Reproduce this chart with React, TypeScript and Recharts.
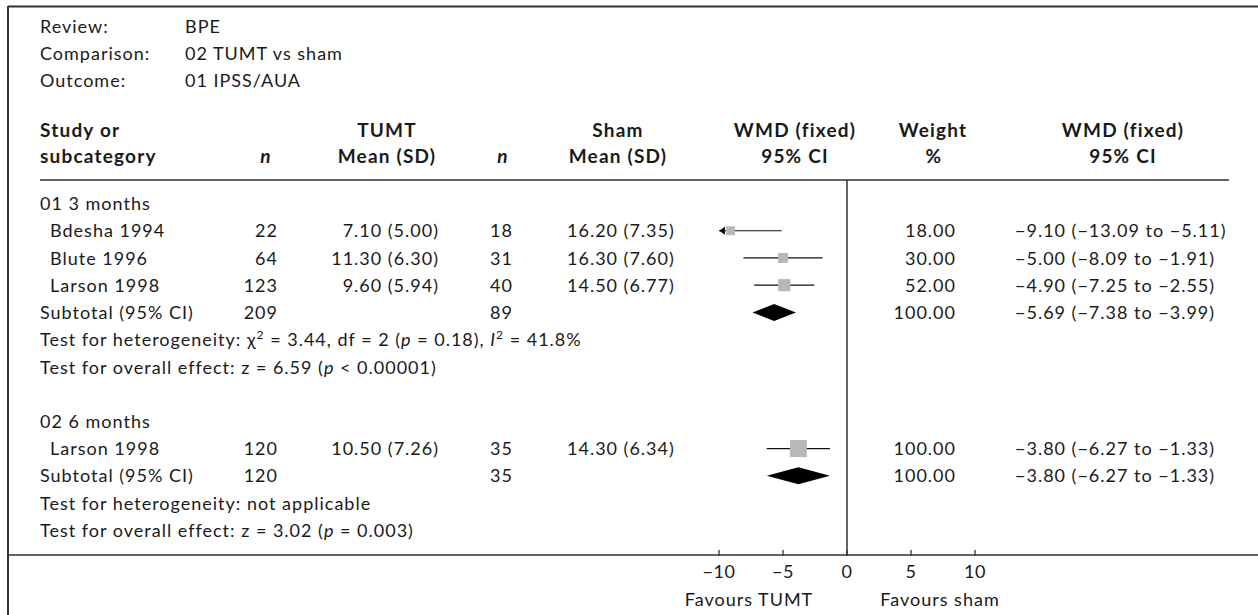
import { ComposedChart, Bar, XAxis, YAxis, ReferenceLine } from 'recharts';

const FONT = 'Lato, "Open Sans", sans-serif';
const INK = '#1a1a1a';
const RULE = '#333';

// table rows, top to bottom
const rowTypes = ['group', 'study', 'study', 'study', 'total', 'het', 'effect', 'blank', 'group', 'study', 'total', 'het', 'effect'];
const rowLabels = ['01 3 months', 'Bdesha 1994', 'Blute 1996', 'Larson 1998', 'Subtotal (95% CI)', 'Test for heterogeneity', 'Test for overall effect', '', '02 6 months', 'Larson 1998', 'Subtotal (95% CI)', 'Test for heterogeneity', 'Test for overall effect'];
const groupIndex = [0, 0, 0, 0, 0, 0, 0, 0, 1, 1, 1, 1, 1];

const tumtN = [null, 22, 64, 123, 209, null, null, null, null, 120, 120, null, null];
const tumtMean = [null, 7.1, 11.3, 9.6, null, null, null, null, null, 10.5, null, null, null];
const tumtSD = [null, 5.0, 6.3, 5.94, null, null, null, null, null, 7.26, null, null, null];
const shamN = [null, 18, 31, 40, 89, null, null, null, null, 35, 35, null, null];
const shamMean = [null, 16.2, 16.3, 14.5, null, null, null, null, null, 14.3, null, null, null];
const shamSD = [null, 7.35, 7.6, 6.77, null, null, null, null, null, 6.34, null, null, null];
const wmd = [null, -9.1, -5.0, -4.9, -5.69, null, null, null, null, -3.8, -3.8, null, null];
const ciLow = [null, -13.09, -8.09, -7.25, -7.38, null, null, null, null, -6.27, -6.27, null, null];
const ciHigh = [null, -5.11, -1.91, -2.55, -3.99, null, null, null, null, -1.33, -1.33, null, null];
const weights = [null, 18, 30, 52, 100, null, null, null, null, 100, 100, null, null];

// per-group test statistics
const hetChi2 = [3.44, null];
const hetDf = [2, null];
const hetP = [0.18, null];
const hetI2 = [41.8, null];
const effectZ = [6.59, 3.02];
const effectP = ['< 0.00001', '= 0.003'];

const xDomain = [-10, 10];
const xTicks = [-10, -5, 0, 5, 10];

const fmt = (v: number) => (v < 0 ? '\u2212' : '') + Math.abs(v).toFixed(2);
const fmtTick = (v: number) => (v < 0 ? '\u2212' : '') + Math.abs(v);

const rows = rowTypes.map((type, i) => ({
  key: 'r' + i,
  type,
  label: rowLabels[i],
  group: groupIndex[i],
  n1: tumtN[i],
  mean1: tumtMean[i] != null ? `${tumtMean[i]!.toFixed(2)} (${tumtSD[i]!.toFixed(2)})` : null,
  n2: shamN[i],
  mean2: shamMean[i] != null ? `${shamMean[i]!.toFixed(2)} (${shamSD[i]!.toFixed(2)})` : null,
  wmd: wmd[i],
  weight: weights[i],
  lo: ciLow[i],
  hi: ciHigh[i],
  ci: wmd[i] != null ? [Math.max(ciLow[i]!, xDomain[0]), Math.min(ciHigh[i]!, xDomain[1])] : null,
  clippedLow: ciLow[i] != null && ciLow[i]! < xDomain[0],
}));

const textProps = { fontFamily: FONT, fontSize: 18, fill: INK, letterSpacing: 1 };
const boldProps = { ...textProps, fontSize: 19, fontWeight: 700, letterSpacing: 1.2 };

function RowTick(props: any) {
  const { y, payload } = props;
  const row = rows.find(r => r.key === payload.value);
  if (!row) return null;
  const ty = y + 6.5;
  const g = row.group;
  if (row.type === 'het') {
    if (hetChi2[g] == null) {
      return <text x={40} y={ty} {...textProps}>Test for heterogeneity: not applicable</text>;
    }
    return (
      <text x={40} y={ty} {...textProps}>
        Test for heterogeneity: χ
        <tspan dy={-7} fontSize={12}>2</tspan>
        <tspan dy={7}>{` = ${hetChi2[g]!.toFixed(2)}, df = ${hetDf[g]} (`}</tspan>
        <tspan fontStyle="italic">p</tspan>
        {` = ${hetP[g]!.toFixed(2)}), `}
        <tspan fontStyle="italic">I</tspan>
        <tspan dy={-7} fontSize={12}>2</tspan>
        <tspan dy={7}>{` = ${hetI2[g]!.toFixed(1)}%`}</tspan>
      </text>
    );
  }
  if (row.type === 'effect') {
    return (
      <text x={40} y={ty} {...textProps}>
        {`Test for overall effect: z = ${effectZ[g].toFixed(2)} (`}
        <tspan fontStyle="italic">p</tspan>
        {` ${effectP[g]})`}
      </text>
    );
  }
  return (
    <g>
      <text x={row.type === 'study' ? 50 : 40} y={ty} {...textProps}>{row.label}</text>
      {row.n1 != null && <text x={278} y={ty} textAnchor="end" {...textProps}>{row.n1}</text>}
      {row.mean1 && <text x={439} y={ty} textAnchor="end" {...textProps}>{row.mean1}</text>}
      {row.n2 != null && <text x={513} y={ty} textAnchor="end" {...textProps}>{row.n2}</text>}
      {row.mean2 && <text x={567} y={ty} {...textProps}>{row.mean2}</text>}
      {row.weight != null && <text x={956} y={ty} textAnchor="end" {...textProps}>{row.weight.toFixed(2)}</text>}
      {row.wmd != null && (
        <text x={1015} y={ty} {...textProps}>{`${fmt(row.wmd)} (${fmt(row.lo!)} to ${fmt(row.hi!)})`}</text>
      )}
    </g>
  );
}

function XTick(props: any) {
  const { x, y, payload } = props;
  const axisY = y - 8;
  return (
    <g>
      <line x1={x} x2={x} y1={axisY - 5} y2={axisY + 1} stroke={RULE} strokeWidth={1.3} />
      <text x={x} y={axisY + 23} textAnchor="middle" {...textProps} letterSpacing={0.5}>{fmtTick(payload.value)}</text>
    </g>
  );
}

function ForestMark(props: any) {
  const { x, y, width, height, payload } = props;
  if (!payload || payload.wmd == null || !payload.ci) return <g />;
  const cy = y + height / 2;
  const [lo, hi] = payload.ci;
  const px = x + (width * (payload.wmd - lo)) / (hi - lo);
  if (payload.type === 'total') {
    const h = height / 2;
    return <polygon points={`${x},${cy} ${px},${cy - h} ${x + width},${cy} ${px},${cy + h}`} fill="#000" />;
  }
  const s = 7 + payload.weight * 0.1;
  return (
    <g>
      <line x1={x} x2={x + width} y1={cy} y2={cy} stroke="#111" strokeWidth={1.2} />
      {payload.clippedLow && (
        <polygon points={`${x},${cy} ${x + 6},${cy - 4} ${x + 6},${cy + 4}`} fill="#111" />
      )}
      <rect x={px - s / 2} y={cy - s / 2} width={s} height={s} fill="#b8b8b8" />
    </g>
  );
}

function Header() {
  return (
    <svg width={1258} height={615} style={{ position: 'absolute', left: 0, top: 0, pointerEvents: 'none' }}>
      {/* frame */}
      <line x1={8} x2={1258} y1={6.5} y2={6.5} stroke={RULE} strokeWidth={2} />
      <line x1={8} x2={8} y1={6} y2={615} stroke={RULE} strokeWidth={2} />
      <line x1={40} x2={1229} y1={180} y2={180} stroke={RULE} strokeWidth={1.5} />
      <line x1={8} x2={1258} y1={555} y2={555} stroke={RULE} strokeWidth={1.5} />

      <text x={40} y={33} {...textProps}>Review:</text>
      <text x={185} y={33} {...textProps}>BPE</text>
      <text x={40} y={60} {...textProps}>Comparison:</text>
      <text x={185} y={60} {...textProps}>02 TUMT vs sham</text>
      <text x={40} y={87} {...textProps}>Outcome:</text>
      <text x={185} y={87} {...textProps}>01 IPSS/AUA</text>

      <text x={40} y={137} {...boldProps}>Study or</text>
      <text x={40} y={163} {...boldProps}>subcategory</text>
      <text x={266} y={163} textAnchor="middle" {...boldProps} fontStyle="italic">n</text>
      <text x={387} y={137} textAnchor="middle" {...boldProps}>TUMT</text>
      <text x={387} y={163} textAnchor="middle" {...boldProps}>Mean (SD)</text>
      <text x={503} y={163} textAnchor="middle" {...boldProps} fontStyle="italic">n</text>
      <text x={618} y={137} textAnchor="middle" {...boldProps}>Sham</text>
      <text x={618} y={163} textAnchor="middle" {...boldProps}>Mean (SD)</text>
      <text x={795} y={137} textAnchor="middle" {...boldProps}>WMD (fixed)</text>
      <text x={795} y={163} textAnchor="middle" {...boldProps}>95% CI</text>
      <text x={933} y={137} textAnchor="middle" {...boldProps}>Weight</text>
      <text x={934} y={163} textAnchor="middle" {...boldProps}>%</text>
      <text x={1123} y={137} textAnchor="middle" {...boldProps}>WMD (fixed)</text>
      <text x={1123} y={163} textAnchor="middle" {...boldProps}>95% CI</text>

      <text x={749} y={606} textAnchor="middle" {...textProps}>Favours TUMT</text>
      <text x={940} y={606} textAnchor="middle" {...textProps}>Favours sham</text>
    </svg>
  );
}

export default function App() {
  return (
    <div style={{ position: 'absolute', left: 0, top: 0, width: 1258, height: 615, background: '#fff' }}>
      <ComposedChart
        width={1258}
        height={615}
        layout="vertical"
        data={rows}
        margin={{ top: 180, right: 283, bottom: 30, left: 0 }}
      >
        <XAxis
          type="number"
          domain={xDomain}
          ticks={xTicks}
          allowDataOverflow
          axisLine={false}
          tickLine={false}
          tickSize={6}
          tickMargin={2}
          height={30}
          tick={<XTick />}
          interval={0}
        />
        <YAxis
          type="category"
          dataKey="key"
          width={719}
          axisLine={false}
          tickLine={false}
          interval={0}
          padding={{ top: 10, bottom: 11 }}
          tick={<RowTick />}
        />
        <ReferenceLine x={0} stroke={RULE} strokeWidth={1.5} />
        <Bar dataKey="ci" barSize={17} shape={<ForestMark />} isAnimationActive={false} />
      </ComposedChart>
      <Header />
    </div>
  );
}
